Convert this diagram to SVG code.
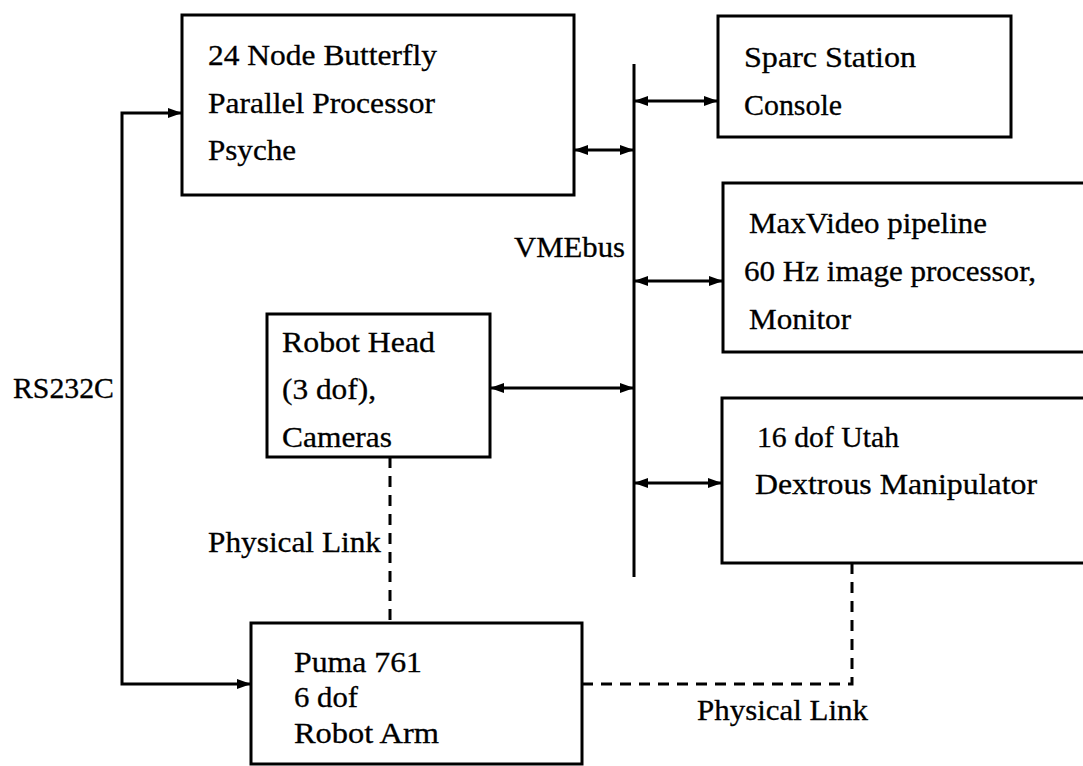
<svg xmlns="http://www.w3.org/2000/svg" width="1083" height="766" viewBox="0 0 1083 766">
  <defs>
    <marker id="ah" viewBox="0 0 14 10" refX="14" refY="5" markerWidth="14" markerHeight="10" markerUnits="userSpaceOnUse" orient="auto-start-reverse">
      <path d="M0,0 L14,5 L0,10 z" fill="#000"/>
    </marker>
  </defs>
  <style>
    .box { fill: #fff; stroke: #000; stroke-width: 3; }
    .line { fill: none; stroke: #000; stroke-width: 3; }
    .arr { fill: none; stroke: #000; stroke-width: 3; marker-start: url(#ah); marker-end: url(#ah); }
    .dash { fill: none; stroke: #000; stroke-width: 3; stroke-dasharray: 11 8; }
    text { font-family: "Liberation Serif", "Times New Roman", serif; font-size: 29px; fill: #000; stroke: #000; stroke-width: 0.3; }
  </style>
  <rect width="1083" height="766" fill="#fff"/>

  <g id="connectors">
    <path class="line" d="M634,64 V577"/>
    <path class="arr" d="M574,150 H634"/>
    <path class="arr" d="M634,101 H718"/>
    <path class="arr" d="M634,281 H723"/>
    <path class="arr" d="M490,388 H634"/>
    <path class="arr" d="M634,483 H722"/>
    <path class="arr" d="M182,113 H122 V684 H251"/>
    <path class="dash" d="M390,457 V623"/>
    <path class="dash" d="M852,563 V684 H582"/>
    <text x="514" y="257" textLength="111" lengthAdjust="spacingAndGlyphs">VMEbus</text>
    <text x="13" y="398" textLength="101" lengthAdjust="spacingAndGlyphs">RS232C</text>
    <text x="208" y="552" textLength="173" lengthAdjust="spacingAndGlyphs">Physical Link</text>
    <text x="697" y="720" textLength="171" lengthAdjust="spacingAndGlyphs">Physical Link</text>
  </g>

  <g id="butterfly">
    <rect class="box" x="182" y="15" width="392" height="180"/>
    <text x="208" y="65" textLength="229" lengthAdjust="spacingAndGlyphs">24 Node Butterfly</text>
    <text x="208" y="113" textLength="227" lengthAdjust="spacingAndGlyphs">Parallel Processor</text>
    <text x="208" y="160" textLength="88" lengthAdjust="spacingAndGlyphs">Psyche</text>
  </g>

  <g id="sparc">
    <rect class="box" x="718" y="16" width="293" height="121"/>
    <text x="744" y="67" textLength="172" lengthAdjust="spacingAndGlyphs">Sparc Station</text>
    <text x="744" y="115" textLength="98" lengthAdjust="spacingAndGlyphs">Console</text>
  </g>

  <g id="maxvideo">
    <rect class="box" x="723" y="183" width="380" height="169"/>
    <text x="749" y="233" textLength="238" lengthAdjust="spacingAndGlyphs">MaxVideo pipeline</text>
    <text x="744" y="281" textLength="292" lengthAdjust="spacingAndGlyphs">60 Hz image processor,</text>
    <text x="749" y="329" textLength="102" lengthAdjust="spacingAndGlyphs">Monitor</text>
  </g>

  <g id="robothead">
    <rect class="box" x="267" y="314" width="223" height="143"/>
    <text x="282" y="352" textLength="153" lengthAdjust="spacingAndGlyphs">Robot Head</text>
    <text x="282" y="399" textLength="94" lengthAdjust="spacingAndGlyphs">(3 dof),</text>
    <text x="282" y="447" textLength="110" lengthAdjust="spacingAndGlyphs">Cameras</text>
  </g>

  <g id="utah">
    <rect class="box" x="722" y="398" width="380" height="165"/>
    <text x="757" y="447" textLength="142" lengthAdjust="spacingAndGlyphs">16 dof Utah</text>
    <text x="755" y="494" textLength="282" lengthAdjust="spacingAndGlyphs">Dextrous Manipulator</text>
  </g>

  <g id="puma">
    <rect class="box" x="251" y="623" width="331" height="141"/>
    <text x="294" y="672" textLength="128" lengthAdjust="spacingAndGlyphs">Puma 761</text>
    <text x="294" y="707" textLength="64" lengthAdjust="spacingAndGlyphs">6 dof</text>
    <text x="294" y="743" textLength="145" lengthAdjust="spacingAndGlyphs">Robot Arm</text>
  </g>
</svg>
